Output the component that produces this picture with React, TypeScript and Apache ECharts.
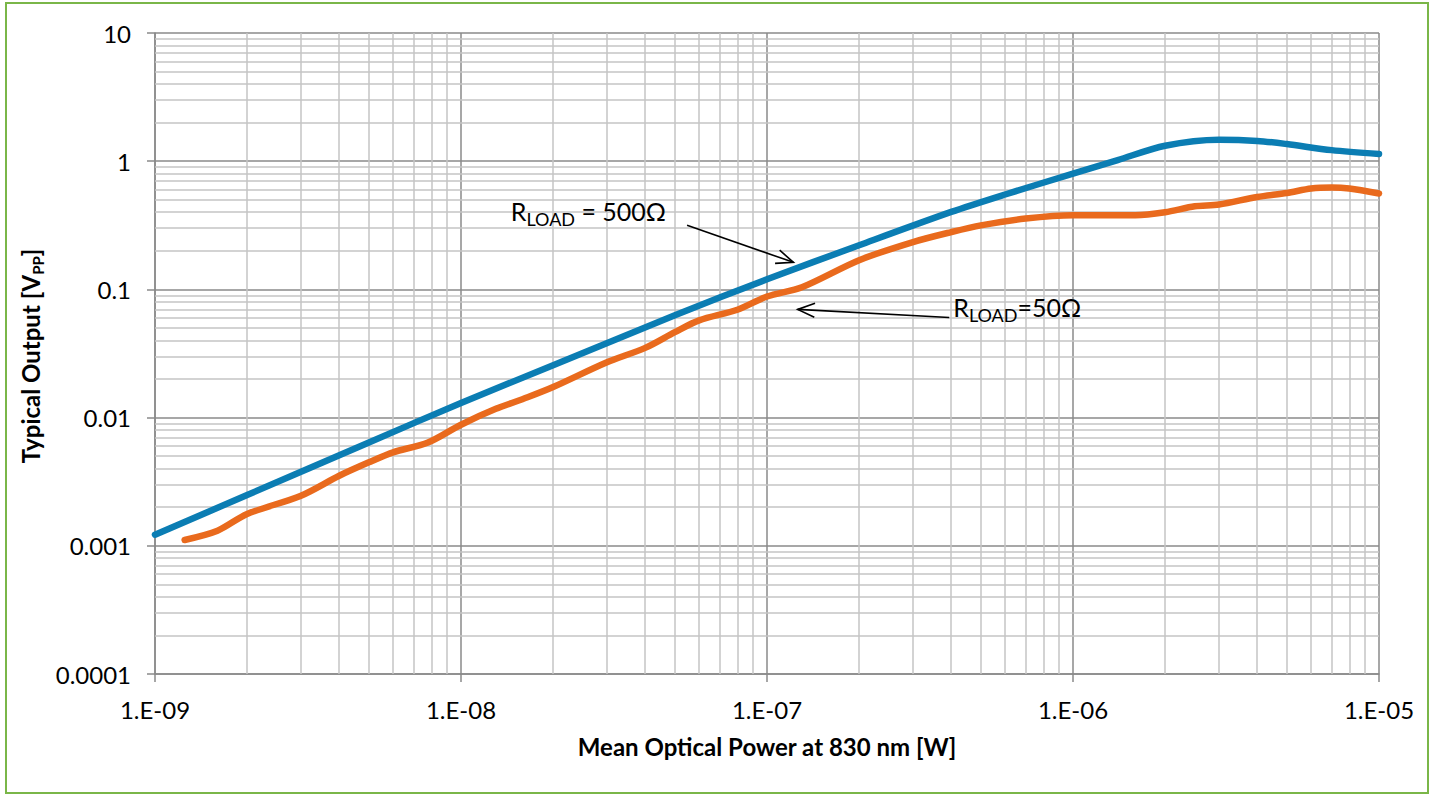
import React, { useEffect, useRef } from "react";
import * as echarts from "echarts";

// Axis ranges (log scales)
const xMin = 1e-9;
const xMax = 1e-5;
const yMin = 1e-4;
const yMax = 10;

// R_LOAD = 500 Ω  (blue)
const blueX = [1e-9, 2e-9, 5e-9, 1e-8, 2e-8, 5e-8, 1e-7, 2e-7, 4e-7, 6e-7, 1e-6, 1.4e-6, 2e-6, 3e-6, 4e-6, 5e-6, 7e-6, 1e-5];
const blueY = [0.00122, 0.00249, 0.0064, 0.013, 0.0256, 0.0628, 0.12, 0.221, 0.402, 0.55, 0.8, 1.02, 1.32, 1.47, 1.44, 1.36, 1.22, 1.14];

// R_LOAD = 50 Ω  (orange)
const orangeX = [1.25e-9, 1.6e-9, 2e-9, 3e-9, 4e-9, 5e-9, 6e-9, 7.8e-9, 1e-8, 1.3e-8, 1.65e-8, 2e-8, 3e-8, 4e-8, 5e-8, 6e-8, 8e-8, 1e-7, 1.3e-7, 2e-7, 3e-7, 4e-7, 5e-7, 7e-7, 1e-6, 1.6e-6, 2e-6, 2.5e-6, 3e-6, 4e-6, 5e-6, 6e-6, 7e-6, 8e-6, 1e-5];
const orangeY = [0.00111, 0.00131, 0.00177, 0.00246, 0.00352, 0.00448, 0.00536, 0.0064, 0.0088, 0.0117, 0.0144, 0.0173, 0.027, 0.035, 0.0464, 0.0573, 0.0694, 0.088, 0.104, 0.169, 0.234, 0.28, 0.316, 0.357, 0.379, 0.379, 0.4, 0.445, 0.459, 0.526, 0.565, 0.612, 0.623, 0.612, 0.56];

// Annotation anchors in data coordinates: [tail, head]
const arrow500 = [[5.48e-8, 0.316], [1.22e-7, 0.1625]];
const arrow50 = [[3.94e-7, 0.0604], [1.26e-7, 0.0698]];

const xDecades = [-9, -8, -7, -6];
const yDecades = [-4, -3, -2, -1, 0];
const minorSteps = [2, 3, 4, 5, 6, 7, 8, 9];

const FONT = "Lato";
const MAJOR = "#8a8a8a";
const MINOR = "#c4c4c4";
const BLUE = "#0b7db3";
const ORANGE = "#e96a1d";

function minorValues(decades: number[]) {
  const out: number[] = [];
  decades.forEach((e) => minorSteps.forEach((k) => out.push(Number((k * Math.pow(10, e)).toPrecision(3)))));
  return out;
}

function zip(xs: number[], ys: number[]) {
  return xs.map((x, i) => [x, ys[i]]);
}

function arrowShapes(p0: number[], p1: number[]) {
  const dx = p1[0] - p0[0];
  const dy = p1[1] - p0[1];
  const len = Math.hypot(dx, dy);
  const ux = dx / len;
  const uy = dy / len;
  const hl = 17;
  const hw = 7;
  const bx = p1[0] - ux * hl;
  const by = p1[1] - uy * hl;
  const a = [bx - uy * hw, by + ux * hw];
  const b = [bx + uy * hw, by - ux * hw];
  return [
    { type: "line", shape: { x1: p0[0], y1: p0[1], x2: p1[0], y2: p1[1] }, style: { stroke: "#000", lineWidth: 1.6 }, z: 10 },
    { type: "polyline", shape: { points: [a, p1, b] }, style: { stroke: "#000", lineWidth: 1.6, fill: null }, z: 10 },
  ];
}

function richLabel(main1: string, sub: string, main2: string) {
  return {
    text: `{m|${main1}}{s|${sub}}{m|${main2}}`,
    rich: {
      m: { fontSize: 25, fontFamily: FONT, lineHeight: 34, fill: "#000", color: "#000" },
      s: { fontSize: 18, fontFamily: FONT, lineHeight: 16, verticalAlign: "bottom", fill: "#000", color: "#000" },
    },
  };
}

export default function App() {
  const ref = useRef<HTMLDivElement>(null);

  useEffect(() => {
    if (!ref.current) return;
    const chart = echarts.init(ref.current, null, { renderer: "svg" });

    const xMinor = minorValues(xDecades);
    const yMinor = minorValues(yDecades);

    const xFmt = (v: number) => {
      const e = Math.round(Math.log10(v));
      return "1.E" + (e < 0 ? "-" : "+") + String(Math.abs(e)).padStart(2, "0");
    };
    const yFmt = (v: number) => {
      const e = Math.round(Math.log10(v));
      return e >= 0 ? String(Math.round(Math.pow(10, e))) : Math.pow(10, e).toFixed(-e);
    };

    const minorLines = [
      ...xMinor.map((v) => [{ coord: [v, yMin] }, { coord: [v, yMax] }]),
      ...yMinor.map((v) => [{ coord: [xMin, v] }, { coord: [xMax, v] }]),
    ];

    chart.setOption({
      animation: false,
      backgroundColor: "#fff",
      grid: { left: 155, right: 54, top: 33, bottom: 122, containLabel: false },
      xAxis: {
        type: "log",
        logBase: 10,
        min: xMin,
        max: xMax,
        name: "Mean Optical Power at 830 nm [W]",
        nameLocation: "middle",
        nameGap: 60,
        nameTextStyle: { fontFamily: FONT, fontWeight: "bold", fontSize: 24, color: "#000" },
        axisLine: { show: true, lineStyle: { color: MAJOR, width: 1.5 } },
        axisTick: { show: true, length: 8, lineStyle: { color: MAJOR, width: 1.5 } },
        axisLabel: { formatter: xFmt, fontFamily: FONT, fontSize: 24, color: "#000", margin: 23 },
        splitLine: { show: true, lineStyle: { color: MAJOR, width: 1.5 } },
        minorTick: { show: false },
        minorSplitLine: { show: false },
      },
      yAxis: {
        type: "log",
        logBase: 10,
        min: yMin,
        max: yMax,
        axisLine: { show: true, lineStyle: { color: MAJOR, width: 1.5 } },
        axisTick: { show: true, length: 8, lineStyle: { color: MAJOR, width: 1.5 } },
        axisLabel: { formatter: yFmt, fontFamily: FONT, fontSize: 24, color: "#000", margin: 24 },
        splitLine: { show: true, lineStyle: { color: MAJOR, width: 1.5 } },
        minorTick: { show: false },
        minorSplitLine: { show: false },
      },
      series: [
        {
          name: "RLOAD = 500Ω",
          type: "line",
          data: zip(blueX, blueY),
          showSymbol: false,
          smooth: 0.3,
          clip: true,
          lineStyle: { color: BLUE, width: 6.5, cap: "round", join: "round" },
          itemStyle: { color: BLUE },
          z: 3,
          markLine: {
            silent: true,
            z: 1,
            symbol: ["none", "none"],
            label: { show: false },
            emphasis: { disabled: true },
            lineStyle: { color: MINOR, width: 1.5, type: "solid" },
            data: minorLines,
          },
        },
        {
          name: "RLOAD = 50Ω",
          type: "line",
          data: zip(orangeX, orangeY),
          showSymbol: false,
          smooth: 0.3,
          clip: true,
          lineStyle: { color: ORANGE, width: 6.5, cap: "round", join: "round" },
          itemStyle: { color: ORANGE },
          z: 3,
        },
      ],
    });

    const px = (p: number[]) => chart.convertToPixel({ xAxisIndex: 0, yAxisIndex: 0 }, p) as number[];
    const t1 = px(arrow500[0]);
    const h1 = px(arrow500[1]);
    const t2 = px(arrow50[0]);
    const h2 = px(arrow50[1]);

    chart.setOption({
      graphic: [
        {
          type: "rect",
          shape: { x: 6, y: 3, width: 1422, height: 790 },
          style: { fill: null, stroke: "#7ab648", lineWidth: 2 },
          silent: true,
          z: 0,
        },
        {
          type: "text",
          x: 30,
          y: 356,
          rotation: Math.PI / 2,
          style: {
            text: "{m|Typical Output [V}{s|PP}{m|]}",
            rich: {
              m: { fontSize: 24, fontFamily: FONT, fontWeight: "bold", lineHeight: 30, fill: "#000", color: "#000" },
              s: { fontSize: 15, fontFamily: FONT, fontWeight: "bold", lineHeight: 16, verticalAlign: "bottom", fill: "#000", color: "#000" },
            },
            align: "center",
            verticalAlign: "middle",
          },
          z: 10,
        },
        ...arrowShapes(t1, h1),
        ...arrowShapes(t2, h2),
        {
          type: "text",
          x: t1[0] - 21,
          y: t1[1] - 14,
          style: { ...richLabel("R", "LOAD", " = 500Ω"), align: "right", verticalAlign: "middle" },
          z: 10,
        },
        {
          type: "text",
          x: t2[0] + 4,
          y: t2[1] - 10,
          style: { ...richLabel("R", "LOAD", "=50Ω"), align: "left", verticalAlign: "middle" },
          z: 10,
        },
      ],
    });

    return () => chart.dispose();
  }, []);

  return <div ref={ref} style={{ position: "fixed", left: 0, top: 0, width: 1433, height: 796 }} />;
}
